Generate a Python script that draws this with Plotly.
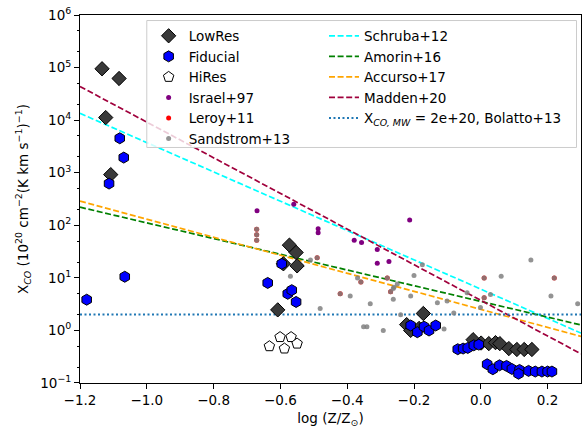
import plotly.graph_objects as go

# ---------------- data ----------------
lowres_x = [-1.134, -1.083, -1.123, -1.108, -0.573, -0.553, -0.550, -0.591, -0.608,
            -0.172, -0.222, -0.210, -0.185, -0.023, 0.001, 0.024, 0.044, 0.057,
            0.084, 0.108, 0.130, 0.153]
lowres_y = [9.5e4, 6.2e4, 1.12e4, 920, 41.9, 30.4, 16.9, 18.5, 2.46,
            2.10, 1.29, 1.00, 1.09, 0.667, 0.575, 0.561, 0.586, 0.561,
            0.452, 0.434, 0.434, 0.434]

fid_x = [-1.081, -1.069, -1.113, -1.066, -1.180, -0.596, -0.638, -0.578, -0.566, -0.553,
         -0.210, -0.190, -0.170, -0.155, -0.135, -0.069, -0.053, -0.039, -0.021, -0.006,
         0.019, 0.036, 0.056, 0.077, 0.093, 0.116, 0.113, 0.143, 0.163, 0.183, 0.200, 0.213]
fid_y = [4520, 1940, 622, 10.5, 3.84, 18.5, 8.0, 4.98, 5.83, 3.48,
         1.24, 0.925, 1.18, 0.996, 1.24, 0.439, 0.452, 0.464, 0.521, 0.537,
         0.227, 0.183, 0.217, 0.211, 0.185, 0.177, 0.150, 0.170, 0.165, 0.165, 0.165, 0.165]

hires_x = [-0.601, -0.568, -0.633, -0.588, -0.550]
hires_y = [0.746, 0.746, 0.50, 0.452, 0.561]

israel_x = [-0.670, -0.560, -0.487, -0.487, -0.379, -0.357, -0.310, -0.310, -0.275, -0.213]
israel_y = [189, 252, 85.7, 72, 51.9, 46.8, 34.6, 18.9, 20.4, 126]

leroy_x = [-0.671, -0.671, -0.671, -0.490, -0.359, -0.421, -0.270, -0.280, 0.010, 0.010, 0.220]
leroy_y = [84.5, 66, 51.9, 24.2, 8.34, 4.98, 5.42, 9.9, 9.9, 4.19, 9.9]

sand_x = [-0.671, -0.671, -0.671, -0.490, -0.359, -0.421, -0.270, -0.280, 0.010, 0.010, 0.220,
          -0.510, -0.570, -0.369, -0.391, -0.481, -0.331, -0.351, -0.341, -0.292, -0.262,
          -0.262, -0.260, -0.250, -0.240, -0.200, -0.210, -0.175, -0.130, -0.101, -0.110,
          -0.081, -0.041, -0.001, 0.029, 0.061, 0.150, 0.210, 0.290]
sand_y = [84.5, 66, 51.9, 24.2, 8.34, 4.98, 5.42, 9.9, 9.9, 4.19, 9.9,
          21.9, 10.7, 9.9, 4.51, 2.61, 3.23, 1.18, 1.18, 1.0, 6.28,
          3.91, 6.64, 7.65, 1.99, 11.1, 4.51, 17.7, 3.37, 3.63, 1.07,
          2.14, 5.19, 2.72, 4.84, 10.7, 21.9, 4.51, 3.23]

# relation end points (at logZ = -1.2 and 0.3)
rel_x = [-1.2, 0.3]
schruba_y = [1.35e4, 0.89]
amorin_y = [221, 1.27]
accurso_y = [288, 0.769]
madden_y = [4.37e4, 0.359]
bolatto_y = [2.0, 2.0]

xtick_vals = [-1.2, -1.0, -0.8, -0.6, -0.4, -0.2, 0.0, 0.2]
xtick_text = ["\u22121.2", "\u22121.0", "\u22120.8", "\u22120.6", "\u22120.4", "\u22120.2", "0.0", "0.2"]
ytick_vals = [0.1, 1, 10, 100, 1e3, 1e4, 1e5, 1e6]
ytick_text = ["10<sup>\u22121</sup>", "10<sup>0</sup>", "10<sup>1</sup>", "10<sup>2</sup>",
              "10<sup>3</sup>", "10<sup>4</sup>", "10<sup>5</sup>", "10<sup>6</sup>"]

FONT = "DejaVu Sans"
fig = go.Figure()

dash = "6px,2.6px"
for name, yy, col in [("Schruba+12", schruba_y, "#00ffff"),
                      ("Amorin+16", amorin_y, "#008000"),
                      ("Accurso+17", accurso_y, "#ffa500"),
                      ("Madden+20", madden_y, "#a0003c")]:
    fig.add_trace(go.Scatter(x=rel_x, y=yy, mode="lines", name=name, legend="legend2",
                             line=dict(color=col, width=1.7, dash=dash)))
fig.add_trace(go.Scatter(x=rel_x, y=bolatto_y, mode="lines", legend="legend2",
                         name="X<sub><i>CO, MW</i></sub> = 2e+20, Bolatto+13",
                         line=dict(color="#1f77b4", width=2, dash="2px,2.5px")))

fig.add_trace(go.Scatter(x=lowres_x, y=lowres_y, mode="markers", name="LowRes",
                         marker=dict(symbol="diamond", size=11, color="#3a3a3a",
                                     line=dict(color="black", width=1))))
fig.add_trace(go.Scatter(x=fid_x, y=fid_y, mode="markers", name="Fiducial",
                         marker=dict(symbol="hexagon", size=11, color="#0000ff",
                                     line=dict(color="black", width=1))))
fig.add_trace(go.Scatter(x=hires_x, y=hires_y, mode="markers", name="HiRes",
                         marker=dict(symbol="pentagon", size=11, color="white",
                                     line=dict(color="black", width=1))))
fig.add_trace(go.Scatter(x=israel_x, y=israel_y, mode="markers", name="Israel+97",
                         marker=dict(size=5, color="#800080")))
fig.add_trace(go.Scatter(x=leroy_x, y=leroy_y, mode="markers", name="Leroy+11",
                         marker=dict(size=5, color="#ff0000")))
fig.add_trace(go.Scatter(x=sand_x, y=sand_y, mode="markers", name="Sandstrom+13",
                         marker=dict(size=5, color="rgba(128,128,128,0.85)")))

# legend frame
fig.add_shape(type="rect", xref="paper", yref="paper", x0=0.1333, x1=0.991, y0=0.640, y1=0.985,
              line=dict(color="#cccccc", width=1), fillcolor="rgba(255,255,255,0.8)", layer="above")

axis_common = dict(showline=True, mirror=True, linecolor="black", linewidth=1,
                   ticks="outside", ticklen=5, tickcolor="black", tickwidth=1,
                   showgrid=False, zeroline=False, ticklabeloverflow="allow",
                   tickfont=dict(family=FONT, size=13.5, color="black"))

fig.update_xaxes(range=[-1.2, 0.3], tickvals=xtick_vals, ticktext=xtick_text,
                 title=dict(text="log (Z/Z<sub>\u2299</sub>)", standoff=6,
                            font=dict(family=FONT, size=13.5, color="black")),
                 **axis_common)
fig.update_yaxes(type="log", range=[-1.0002, 6.0002], tickvals=ytick_vals, ticktext=ytick_text,
                 minor=dict(ticks="outside", ticklen=2.5, tickcolor="black", showgrid=False),
                 title=dict(text="X<sub><i>CO</i></sub> (10<sup>20</sup> cm<sup>\u22122</sup>(K km s<sup>\u22121</sup>)<sup>\u22121</sup>)",
                            standoff=8, font=dict(family=FONT, size=13.5, color="black")),
                 **axis_common)

leg_common = dict(bgcolor="rgba(0,0,0,0)", borderwidth=0, yanchor="top", xanchor="left",
                  font=dict(family=FONT, size=13.5, color="black"), traceorder="normal")
fig.update_layout(
    width=588, height=430,
    margin=dict(l=80, r=5.5, t=9.3, b=46.7),
    paper_bgcolor="white", plot_bgcolor="white",
    font=dict(family=FONT, size=13.5, color="black"),
    showlegend=True,
    legend=dict(x=0.137, y=0.985, **leg_common),
    legend2=dict(x=0.487, y=0.985, **leg_common),
)

fig.write_html("out.html", config={"displayModeBar": False},
               post_script="document.body.style.margin='0';")
